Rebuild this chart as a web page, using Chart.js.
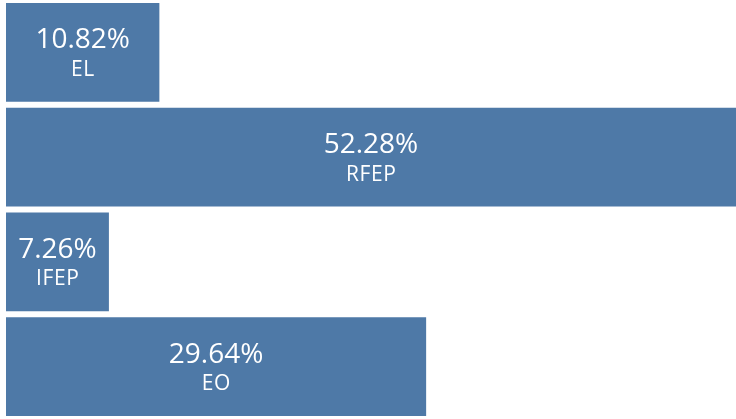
<!DOCTYPE html>
<html>
<head>
<meta charset="utf-8">
<script src="https://cdn.jsdelivr.net/npm/chart.js@4/dist/chart.umd.min.js"></script>
<style>
  html, body { margin: 0; padding: 0; background: #fff; }
</style>
</head>
<body>
<canvas id="c" width="736" height="419"></canvas>
<script>
const categories = ['EL', 'RFEP', 'IFEP', 'EO']
const shares = [10.82, 52.28, 7.26, 29.64]
const barColor = '#4e79a7'

// labels drawn inside each bar: percent on top, group name underneath
const barText = {
  id: 'barText',
  afterDatasetsDraw(chart) {
    const ctx = chart.ctx
    const area = chart.chartArea
    const meta = chart.getDatasetMeta(0)
    ctx.save()
    ctx.fillStyle = '#ffffff'
    ctx.textAlign = 'center'
    ctx.textBaseline = 'alphabetic'
    meta.data.forEach((bar, i) => {
      const right = Math.min(bar.x, area.right)
      const cx = (bar.base + right) / 2
      ctx.font = '28px "Open Sans"'
      ctx.letterSpacing = '0px'
      ctx.fillText(shares[i].toFixed(2) + '%', cx, bar.y - 4)
      ctx.font = '21px "Open Sans"'
      ctx.letterSpacing = '0.6px'
      ctx.fillText(categories[i], cx + 0.3, bar.y + 23.5)
    })
    ctx.restore()
  }
}

new Chart(document.getElementById('c'), {
  type: 'bar',
  data: {
    labels: categories,
    datasets: [{
      data: shares,
      backgroundColor: barColor,
      borderWidth: 0,
      categoryPercentage: 0.945,
      barPercentage: 1
    }]
  },
  options: {
    indexAxis: 'y',
    responsive: false,
    animation: false,
    layout: { padding: { left: 6, top: -1, right: 0, bottom: 0 } },
    plugins: {
      legend: { display: false },
      tooltip: { enabled: false }
    },
    scales: {
      x: { display: false, min: 0, max: 51.5 },
      y: { display: false }
    }
  },
  plugins: [barText]
})
</script>
</body>
</html>
